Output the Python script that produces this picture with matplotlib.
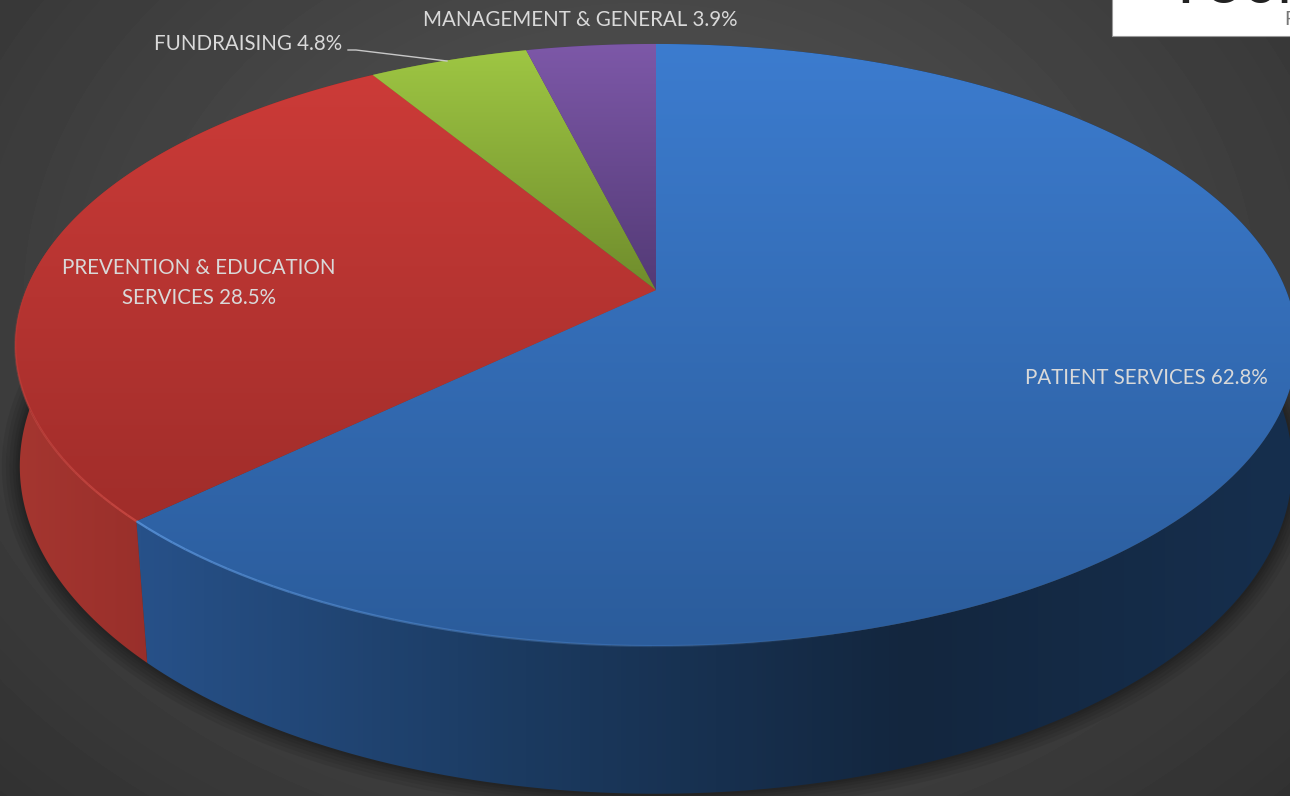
import numpy as np
import matplotlib.pyplot as plt
from matplotlib.colors import LinearSegmentedColormap
from matplotlib.patches import Polygon, Rectangle

# slices, clockwise from 12 o'clock
categories = ['PATIENT SERVICES', 'PREVENTION & EDUCATION\nSERVICES', 'FUNDRAISING', 'MANAGEMENT & GENERAL']
values = [62.8, 28.5, 4.8, 3.9]

top_colors = [('#3c7ccf', '#2b5c9b'), ('#cc3b38', '#a02d2a'), ('#9ec643', '#6f8c2c'), ('#7d58a8', '#533a76')]
wall_colors = [['#275189', '#1b3a60', '#13263e', '#162f4e'], ['#a53630', '#852422'],
               ['#6c8a2b', '#6c8a2b'], ['#4d3570', '#4d3570']]
rim_colors = ['#5b96de', '#cf4a44']
label_pos = [(1146, 378), (199, 283), (248, 44), (580, 20)]

W, H = 1290, 796
CX, CY = 656, 290
TOP = dict(rx=630, ry=291, y0=CY, k=0.1827)
BOTTOM = dict(rx=628, ry=319, y0=414, k=0.16)


def project(theta, rx, ry, y0, k):
    # theta clockwise from top, perspective tilt of the disc
    u = np.sin(theta)
    v = np.cos(theta)
    d = 1 + k * v
    return CX + rx * u / d, y0 - ry * v / d


def gradient(ax, colors, clip, horizontal=False):
    cmap = LinearSegmentedColormap.from_list('g', colors)
    x0, y0 = clip.get_xy().min(axis=0)
    x1, y1 = clip.get_xy().max(axis=0)
    g = np.linspace(0, 1, 256)
    g = g.reshape(1, -1) if horizontal else g.reshape(-1, 1)
    im = ax.imshow(g, cmap=cmap, extent=[x0, x1, y1, y0], aspect='auto', zorder=clip.get_zorder())
    ax.add_patch(clip)
    clip.set_visible(False)
    im.set_clip_path(clip)


fig = plt.figure(figsize=(W / 100, H / 100), dpi=100)
ax = fig.add_axes([0, 0, 1, 1])

# background
yy, xx = np.mgrid[0:H, 0:W]
r = np.sqrt(((xx - 640) / 900) ** 2 + ((yy - 300) / 700) ** 2)
bg = np.clip(0.345 - 0.15 * r, 0, 1)
ax.imshow(bg, cmap='gray', vmin=0, vmax=1, extent=[0, W, H, 0], aspect='auto', zorder=0)

edges = np.cumsum([0] + values) / sum(values) * 2 * np.pi

# soft shadow under the pie, front half only
t = np.linspace(np.radians(75), np.radians(285), 300)
bx, by = project(t, **BOTTOM)
for lw in [26, 20, 15, 10, 6, 3]:
    ax.plot(bx, by, color='black', lw=lw, alpha=0.07, zorder=1, solid_capstyle='butt')

# side walls
for i in range(len(values)):
    t = np.linspace(edges[i], edges[i + 1], 200)
    pts = np.vstack([np.column_stack(project(t, **TOP)), np.column_stack(project(t, **BOTTOM))[::-1]])
    gradient(ax, wall_colors[i], Polygon(pts, closed=True, zorder=2), horizontal=True)

# top faces
for i in range(len(values)):
    t = np.linspace(edges[i], edges[i + 1], 200)
    pts = np.vstack([[CX, CY], np.column_stack(project(t, **TOP))])
    gradient(ax, top_colors[i], Polygon(pts, closed=True, zorder=3))

# lighter rim along the lower left edge, fading away from the blue/red corner
corner = edges[1]
for i, start in enumerate([np.radians(165), np.radians(275)]):
    t = np.linspace(start, corner, 41)
    for j in range(40):
        rx, ry = project(t[j:j + 2], **TOP)
        ax.plot(rx, ry, color=rim_colors[i], lw=1.6, alpha=0.8 * (j + 1) / 40, zorder=4, solid_capstyle='butt')

# labels
for i, name in enumerate(categories):
    ax.text(label_pos[i][0], label_pos[i][1], f'{name} {values[i]}%', color='#d9d9d9', fontsize=14.8,
            family='Lato', ha='center', va='center', linespacing=1.65, zorder=6)

# leader line for fundraising
ax.plot([348, 356, 447], [50, 50, 61], color='#c8c8c8', lw=1, zorder=6)

# logo box, cut off by the page corner
ax.add_patch(Rectangle((1112, -2), 180, 38, facecolor='white', edgecolor='#999999', lw=0.8, zorder=5))
ax.text(1178, 3, 'FOUN', color='#222222', fontsize=34, family='Lato', weight='bold', va='baseline', zorder=6)
ax.text(1284, 25, 'F', color='#777777', fontsize=14, family='Lato', va='baseline', zorder=6)

ax.set_xlim(0, W)
ax.set_ylim(H, 0)
ax.axis('off')
fig.savefig('out.png', dpi=100)
